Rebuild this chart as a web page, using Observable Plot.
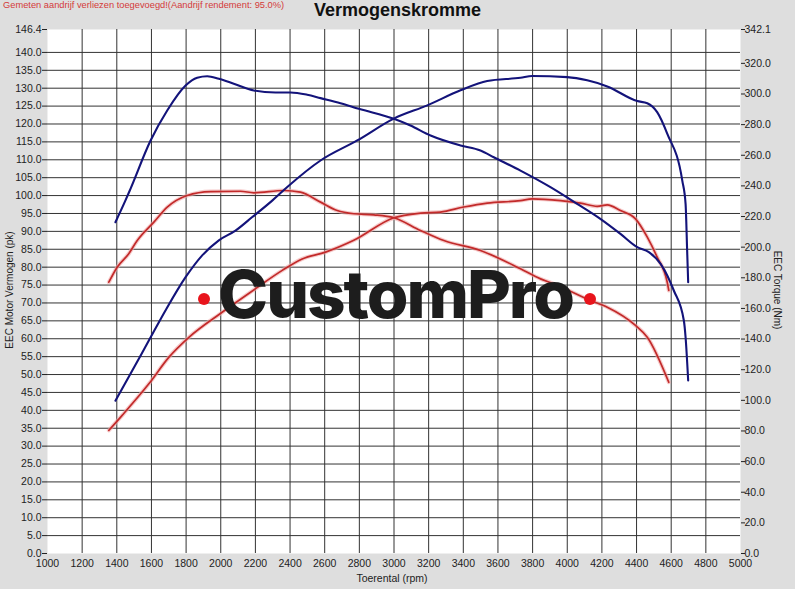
<!DOCTYPE html>
<html><head><meta charset="utf-8">
<script src="https://cdn.jsdelivr.net/npm/d3@7"></script>
<script src="https://cdn.jsdelivr.net/npm/@observablehq/plot@0.6"></script>
<style>
html,body{margin:0;padding:0;background:#dedede;}
#wrap{position:relative;width:795px;height:589px;overflow:hidden;font-family:"Liberation Sans",Arial,sans-serif;background:#dedede;}
#chart{position:absolute;left:0;top:0;}
.ov{position:absolute;white-space:nowrap;}
#note{left:3px;top:0px;font-size:9.3px;color:#d43a3a;}
#lbox{left:508px;top:0;width:164px;height:22px;background:#e7e7e7;}
#title{left:0;width:795px;text-align:center;top:0px;font-size:18px;font-weight:bold;color:#111;}
#ylab{left:9px;top:290px;font-size:10px;color:#222;transform:translate(-50%,-50%) rotate(-90deg);}
#y2lab{left:777px;top:290px;font-size:10px;color:#222;transform:translate(-50%,-50%) rotate(90deg);}
#xlab{left:392px;top:572px;font-size:10.5px;color:#222;transform:translateX(-50%);}
#logo{position:absolute;left:0;top:0;pointer-events:none;}
</style></head>
<body><div id="wrap">
<div id="lbox" class="ov"></div>
<div id="chart"></div>
<div id="note" class="ov">Gemeten aandrijf verliezen toegevoegd!(Aandrijf rendement: 95.0%)</div>
<div id="title" class="ov">Vermogenskromme</div>
<div id="ylab" class="ov">EEC Motor Vermogen (pk)</div>
<div id="y2lab" class="ov">EEC Torque (Nm)</div>
<div id="xlab" class="ov">Toerental (rpm)</div>
<svg id="logo" width="795" height="589">
  <text x="218" y="318" font-family="Inter, Roboto, sans-serif" font-weight="800" font-size="66" fill="#1d1d1d" textLength="355" lengthAdjust="spacingAndGlyphs" letter-spacing="-2">CustomPro</text>
  <circle cx="204" cy="299" r="6" fill="#e8141c"/>
  <circle cx="590" cy="299" r="6" fill="#e8141c"/>
</svg>
</div>
<script>
// Blue torque (Nm, right axis)
const blueTorqueRpm = [1392,1450,1479,1595,1691,1797,1864,1922,1989,2075,2191,2316,2403,2499,2576,2691,2797,2999,3095,3211,3384,3499,3576,3730,3903,4057,4191,4307,4404,4471,4539,4615,4673,4683,4698];
const blueTorqueNm  = [216.3,230.5,238.1,269.6,289.2,305.5,310.6,311.6,309.9,306.7,302.3,301.0,301.0,299.5,297.3,294.0,290.3,283.8,279.4,272.9,266.4,263.1,258.7,250.0,239.2,228.3,218.5,208.7,200.0,196.7,189.1,171.7,152.1,141.2,112.9];
// Blue power (pk, left axis)
const bluePowerRpm = [1392,1479,1585,1681,1797,1893,1989,2085,2182,2297,2384,2576,2788,2999,3192,3384,3538,3730,3798,4000,4115,4231,4404,4462,4519,4577,4664,4683,4692,4698];
const bluePowerPk  = [42.7,50.2,59.5,67.9,77.2,83.3,87.5,90.2,94.0,98.6,102.4,109.8,115.4,121.5,125.2,129.4,132.0,132.9,133.4,133.1,132.2,130.5,126.4,125.8,123.3,117.3,104.2,97.7,84.7,75.8];
// Red torque (Nm, right axis)
const redTorqueRpm = [1354,1402,1469,1518,1614,1691,1806,1941,2114,2191,2364,2460,2576,2672,2768,2884,2999,3153,3288,3499,3730,3846,3922,4134,4231,4394,4462,4586];
const redTorqueNm  = [177.1,186.9,195.7,204.3,216.3,226.1,233.7,236.3,236.5,235.5,237.0,235.9,229.4,223.9,221.8,221.1,219.2,210.9,204.3,197.8,185.9,179.3,176.1,165.2,160.8,148.9,141.2,111.8];
// Red power (pk, left axis)
const redPowerRpm = [1354,1431,1585,1700,1816,2008,2201,2355,2470,2605,2768,2999,3153,3268,3403,3538,3730,3798,3961,4076,4173,4231,4307,4394,4462,4519,4577,4586];
const redPowerPk  = [34.4,38.6,47.4,54.8,60.4,67.4,74.0,79.1,82.3,84.2,87.5,93.8,95.1,95.4,96.8,97.9,98.6,99.1,98.6,97.9,97.0,97.4,95.8,93.5,88.4,82.8,75.8,73.5];

const xTicks = d3.range(1000, 5001, 200);
const leftTicks = d3.range(0, 141, 5).concat([146.4]);
const rightTicks = d3.range(0, 321, 20).concat([342.1]);
const leftMax = 146.4, rightMax = 342.1;
const k = leftMax / rightMax;

const toRows = (xs, ys, f = 1) => xs.map((x, i) => ({rpm: x, v: ys[i] * f}));
const bt = toRows(blueTorqueRpm, blueTorqueNm, k);
const bp = toRows(bluePowerRpm, bluePowerPk);
const rt = toRows(redTorqueRpm, redTorqueNm, k);
const rp = toRows(redPowerRpm, redPowerPk);

const blue = "#13137a", red = "#c22a2a", redHalo = "#f0a8a8";
const lineOpts = {x: "rpm", y: "v", curve: "monotone-x"};

const chart = Plot.plot({
  width: 795, height: 589,
  marginLeft: 47, marginRight: 55, marginTop: 29, marginBottom: 36,
  style: {background: "#dedede", fontFamily: "'Liberation Sans', Arial, sans-serif", fontSize: "10.5px", color: "#222"},
  x: {domain: [1000, 5000]},
  y: {domain: [0, leftMax]},
  marks: [
    Plot.frame({fill: "white", stroke: "none"}),
    Plot.ruleX(xTicks.filter(d => d > 1000 && d < 5000), {stroke: "#333", strokeWidth: 1}),
    Plot.ruleY(leftTicks.filter(d => d > 0 && d < leftMax), {stroke: "#333", strokeWidth: 1}),
    Plot.line(rt, {...lineOpts, stroke: redHalo, strokeWidth: 4, strokeOpacity: 0.6}),
    Plot.line(rp, {...lineOpts, stroke: redHalo, strokeWidth: 4, strokeOpacity: 0.6}),
    Plot.line(rt, {...lineOpts, stroke: red, strokeWidth: 1.7}),
    Plot.line(rp, {...lineOpts, stroke: red, strokeWidth: 1.7}),
    Plot.line(bt, {...lineOpts, stroke: blue, strokeWidth: 2.1}),
    Plot.line(bp, {...lineOpts, stroke: blue, strokeWidth: 2.1}),
    Plot.axisY({ticks: leftTicks, tickFormat: d => d.toFixed(1), anchor: "left", tickSize: 5, tickPadding: 1, label: null}),
    Plot.axisY({ticks: rightTicks.map(v => v * k), tickFormat: d => (d / k).toFixed(1), anchor: "right", tickSize: 4, tickPadding: 0, label: null}),
    Plot.axisX({ticks: xTicks, tickFormat: d => String(d), tickSize: 0, tickPadding: 6, label: null})
  ]
});
document.getElementById("chart").appendChild(chart);
</script>
</body></html>
